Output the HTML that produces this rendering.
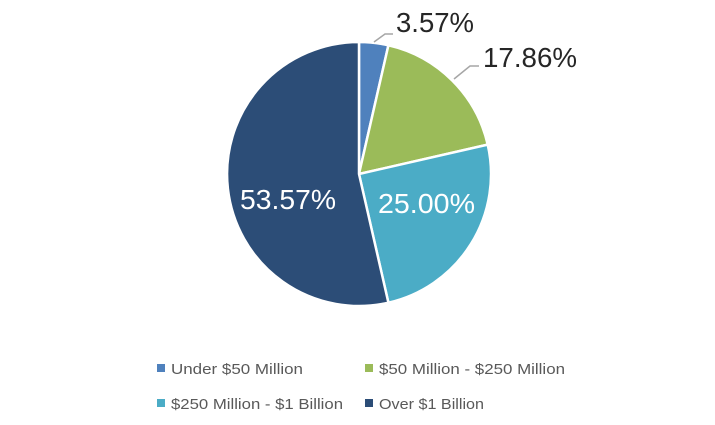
<!DOCTYPE html>
<html><head><meta charset="utf-8"><style>
html,body{margin:0;padding:0;background:#fff;}
svg{display:block;font-family:"Liberation Sans",sans-serif;}
</style></head><body>
<svg width="715" height="425" viewBox="0 0 715 425" xmlns="http://www.w3.org/2000/svg">
<g stroke="#fff" stroke-width="2.5" stroke-linejoin="round">
<path d="M359,174 L359,42 A132,132 0 0 1 388.4,45.3 Z" fill="#4F81BD"/>
<path d="M359,174 L388.4,45.3 A132,132 0 0 1 487.7,144.6 Z" fill="#9BBB59"/>
<path d="M359,174 L487.7,144.6 A132,132 0 0 1 388.4,302.7 Z" fill="#4BACC6"/>
<path d="M359,174 L388.4,302.7 A132,132 0 1 1 359,42 Z" fill="#2C4D77"/>
</g>
<g stroke="#A6A6A6" stroke-width="1.5" fill="none">
<polyline points="374,42 385,34 393,34"/>
<polyline points="454,79 470,66 479,66"/>
</g>
<g font-size="28" fill="#262626">
<text x="396" y="32" textLength="78" lengthAdjust="spacingAndGlyphs">3.57%</text>
<text x="483" y="67" textLength="94" lengthAdjust="spacingAndGlyphs">17.86%</text>
</g>
<g font-size="28" fill="#fff">
<text x="378" y="213" textLength="97" lengthAdjust="spacingAndGlyphs">25.00%</text>
<text x="240" y="209" textLength="96" lengthAdjust="spacingAndGlyphs">53.57%</text>
</g>
<g font-size="15" fill="#595959">
<rect x="157" y="364" width="8" height="8" fill="#4F81BD"/>
<text x="171" y="374" textLength="132" lengthAdjust="spacingAndGlyphs">Under $50 Million</text>
<rect x="365" y="364" width="8" height="8" fill="#9BBB59"/>
<text x="379" y="374" textLength="186" lengthAdjust="spacingAndGlyphs">$50 Million - $250 Million</text>
<rect x="157" y="399" width="8" height="8" fill="#4BACC6"/>
<text x="171" y="409" textLength="172" lengthAdjust="spacingAndGlyphs">$250 Million - $1 Billion</text>
<rect x="365" y="399" width="8" height="8" fill="#2C4D77"/>
<text x="379" y="409" textLength="105" lengthAdjust="spacingAndGlyphs">Over $1 Billion</text>
</g>
</svg>
</body></html>
